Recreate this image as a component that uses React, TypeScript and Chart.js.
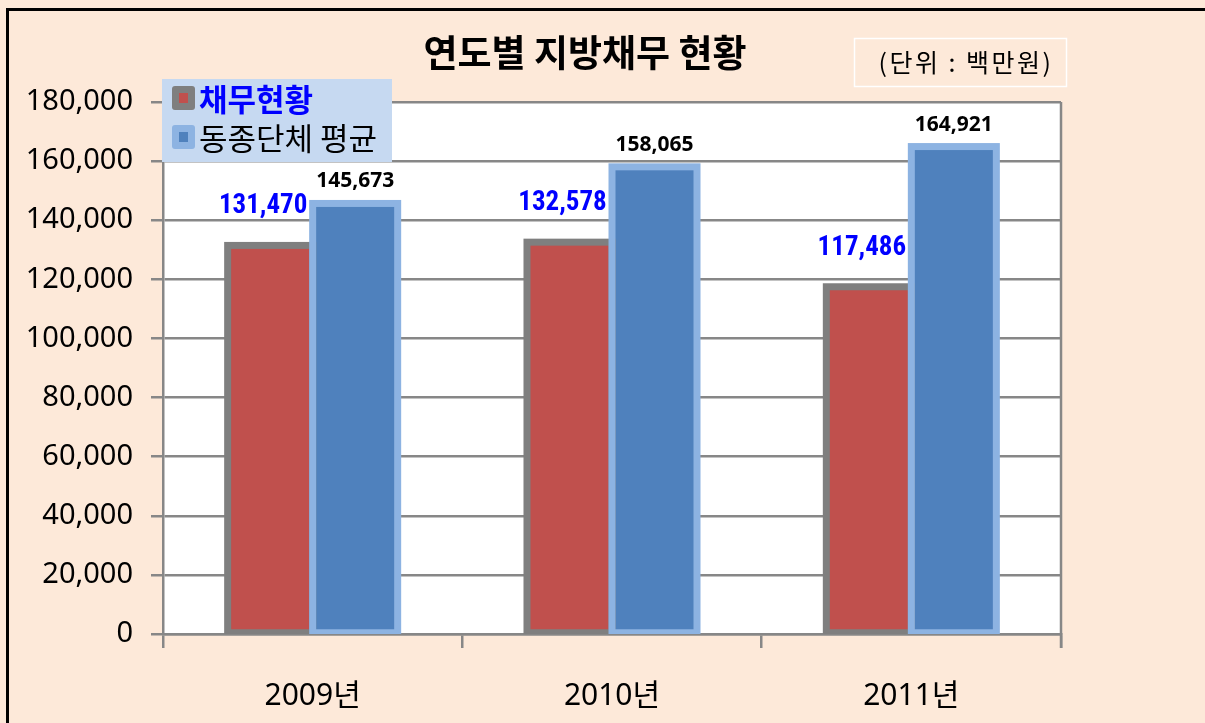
import React, { useEffect, useRef } from "react";
import { Chart, registerables } from "chart.js";

Chart.register(...registerables);

const categories = ["2009년", "2010년", "2011년"];
const debtValues = [131470, 132578, 117486];
const avgValues = [145673, 158065, 164921];
const seriesNames = ["채무현황", "동종단체 평균"];
const titleText = "연도별 지방채무 현황";
const unitText = "(단위 : 백만원)";
const yMin = 0;
const yMax = 180000;
const yStep = 20000;

const PEACH = "#FDE9D9";
const GRID = "#878787";
const RED = "#C0504D";
const RED_BORDER = "#7F7F7F";
const BLUE = "#4F81BD";
const BLUE_BORDER = "#8DB3E2";

const fmt = (v: number) => v.toLocaleString("en-US");

const decorPlugin = {
  id: "decor",
  beforeDraw(chart: any) {
    const { ctx, chartArea } = chart;
    ctx.save();
    ctx.fillStyle = PEACH;
    ctx.fillRect(0, 0, chart.width, chart.height);
    ctx.strokeStyle = "#000";
    ctx.lineWidth = 3;
    ctx.strokeRect(7.5, 9.5, chart.width + 20, chart.height + 20);
    ctx.fillStyle = "#fff";
    ctx.fillRect(chartArea.left, chartArea.top, chartArea.right - chartArea.left, chartArea.bottom - chartArea.top);
    ctx.restore();
  },
  afterDatasetsDraw(chart: any) {
    const { ctx, chartArea } = chart;
    ctx.save();
    ctx.beginPath();
    ctx.rect(0, 0, chart.width, chartArea.bottom);
    ctx.clip();
    ctx.lineWidth = 7;
    [0, 1].forEach((di) => {
      const meta = chart.getDatasetMeta(di);
      ctx.strokeStyle = di === 0 ? RED_BORDER : BLUE_BORDER;
      meta.data.forEach((bar: any) => {
        const p = bar.getProps(["x", "y", "base", "width"], true);
        ctx.strokeRect(p.x - p.width / 2, p.y, p.width, p.base - p.y);
      });
    });
    ctx.restore();

    ctx.save();
    ctx.textAlign = "center";
    ctx.textBaseline = "alphabetic";
    const m0 = chart.getDatasetMeta(0);
    ctx.fillStyle = "#0000FF";
    ctx.font = "bold 27px 'Liberation Sans Narrow', 'Roboto Condensed', 'DejaVu Sans Condensed', sans-serif";
    m0.data.forEach((bar: any, i: number) => {
      const p = bar.getProps(["x", "y"], true);
      ctx.fillText(fmt(debtValues[i]), p.x - 7, p.y - 32);
    });
    const m1 = chart.getDatasetMeta(1);
    ctx.fillStyle = "#000";
    ctx.font = "bold 21px 'Noto Sans', 'Liberation Sans', sans-serif";
    m1.data.forEach((bar: any, i: number) => {
      const p = bar.getProps(["x", "y"], true);
      ctx.fillText(fmt(avgValues[i]), p.x, p.y - 16);
    });
    ctx.restore();
  },
  afterDraw(chart: any) {
    const { ctx, chartArea } = chart;
    ctx.save();
    ctx.strokeStyle = GRID;
    ctx.lineWidth = 2.5;
    ctx.beginPath();
    ctx.moveTo(chartArea.right, chartArea.top);
    ctx.lineTo(chartArea.right, chartArea.bottom + 14);
    ctx.stroke();

    ctx.fillStyle = "#000";
    ctx.textAlign = "center";
    ctx.textBaseline = "middle";
    ctx.font = "bold 37px 'Noto Sans CJK KR', sans-serif";
    ctx.fillText(titleText, 585, 53);

    ctx.strokeStyle = "#fff";
    ctx.lineWidth = 1.5;
    ctx.strokeRect(854.5, 38.5, 212, 48);
    ctx.font = "25px 'Noto Sans CJK KR', sans-serif";
    (ctx as any).letterSpacing = "2.5px";
    ctx.fillText(unitText, 966, 62);
    (ctx as any).letterSpacing = "0px";

    ctx.fillStyle = "#C6D9F1";
    ctx.fillRect(162, 79, 230, 83);
    const entries = [
      { outer: RED_BORDER, inner: RED, cy: 98, color: "#0000FF", bold: true },
      { outer: BLUE_BORDER, inner: BLUE, cy: 137, color: "#000", bold: false },
    ];
    entries.forEach((e, i) => {
      ctx.fillStyle = e.outer;
      ctx.beginPath();
      (ctx as any).roundRect(172, e.cy - 12, 23, 24, 3);
      ctx.fill();
      ctx.fillStyle = e.inner;
      ctx.fillRect(179, e.cy - 5, 9, 10);
      ctx.fillStyle = e.color;
      ctx.textAlign = "left";
      ctx.textBaseline = "middle";
      ctx.font = (e.bold ? "bold " : "") + "31px 'Noto Sans CJK KR', sans-serif";
      ctx.fillText(seriesNames[i], 199, e.cy + 1);
    });
    ctx.restore();
  },
};

export default function App() {
  const ref = useRef<HTMLCanvasElement>(null);
  useEffect(() => {
    const canvas = ref.current!;
    const chart = new Chart(canvas, {
      type: "bar",
      data: {
        labels: categories,
        datasets: [
          { label: seriesNames[0], data: debtValues, backgroundColor: RED, borderWidth: 0 },
          { label: seriesNames[1], data: avgValues, backgroundColor: BLUE, borderWidth: 0 },
        ],
      },
      options: {
        responsive: false,
        animation: false,
        layout: { padding: { top: 102, right: 144, left: 0, bottom: 0 } },
        datasets: { bar: { categoryPercentage: 0.568, barPercentage: 1.0 } },
        plugins: { legend: { display: false }, title: { display: false }, tooltip: { enabled: false } },
        scales: {
          x: {
            grid: { display: true, drawOnChartArea: false, drawTicks: true, tickLength: 14, offset: true, color: GRID, lineWidth: 2.5 },
            border: { display: true, color: GRID, width: 2.5 },
            ticks: { color: "#000", padding: 30, font: { family: "'Noto Sans', 'Noto Sans CJK KR', sans-serif", size: 30 } },
            afterFit: (s: any) => { s.height = 89; },
          },
          y: {
            min: yMin,
            max: yMax,
            grid: { color: GRID, lineWidth: 2.5, tickLength: 12 },
            border: { display: true, color: GRID, width: 2.5 },
            ticks: {
              stepSize: yStep,
              color: "#000",
              padding: 18,
              font: { family: "'Noto Sans', sans-serif", size: 29 },
              callback: (v: any) => fmt(Number(v)),
            },
            afterFit: (s: any) => { s.width = 163; },
          },
        },
      },
      plugins: [decorPlugin],
    });
    return () => chart.destroy();
  }, []);
  return (
    <div style={{ position: "absolute", left: 0, top: 0, width: 1205, height: 723 }}>
      <canvas ref={ref} width={1205} height={723} style={{ width: 1205, height: 723, display: "block" }} />
    </div>
  );
}
